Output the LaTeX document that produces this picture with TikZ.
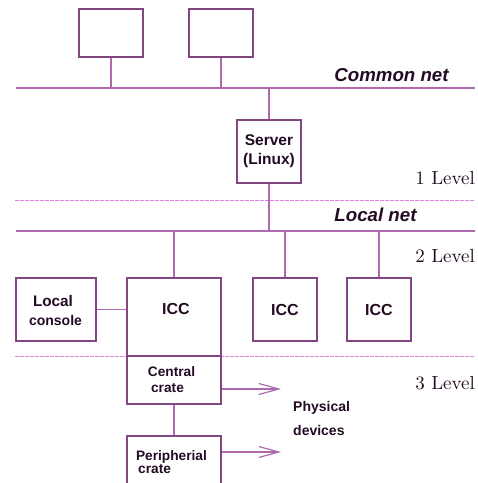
\documentclass[tikz,border=0pt]{standalone}
\usepackage{fontspec}
\setmainfont{Liberation Sans}
\newfontfamily\lmserif{lmroman10-regular.otf}
\usetikzlibrary{arrows.meta}
\definecolor{linec}{RGB}{175,105,175}
\definecolor{boxc}{RGB}{130,70,130}
\definecolor{dotc}{RGB}{220,130,220}
\definecolor{txtc}{RGB}{35,12,35}
\tikzset{
  boxnode/.style={draw=boxc, line width=1.3pt, rectangle, inner sep=0pt, fill=white},
  conn/.style={draw=linec, line width=1.3pt},
  netline/.style={draw=linec, line width=1.4pt},
  sepline/.style={draw=dotc, line width=1pt, dash pattern=on 4pt off 1pt},
  arr/.style={draw=linec, line width=1.2pt, -{Straight Barb[length=20pt,width=11pt,line width=1.2pt]}},
  nettext/.style={text=txtc, font=\fontsize{18.7}{22}\selectfont\bfseries\itshape, inner sep=0pt, anchor=base},
  lvltext/.style={text=txtc, font=\lmserif\fontsize{19}{22}\selectfont, inner sep=0pt, anchor=base east},
  btext/.style={text=txtc, inner sep=0pt, align=center},
}
\begin{document}
\begin{tikzpicture}[x=1pt,y=-1pt]
\useasboundingbox (0,0) rectangle (478,483);
\clip (0,0) rectangle (478,483);
% network lines
\coordinate (cnL) at (16,88);
\coordinate (cnR) at (475,88);
\coordinate (lnL) at (16,231);
\coordinate (lnR) at (475,231);
\draw[netline] (cnL) -- (cnR);
\draw[netline] (lnL) -- (lnR);
% level separators
\coordinate (s1L) at (15,200);
\coordinate (s1R) at (475,200);
\coordinate (s2L) at (15,356);
\coordinate (s2R) at (475,356);
\draw[sepline] (s1L) -- (s1R);
\draw[sepline] (s2L) -- (s2R);
% boxes
\node[boxnode, minimum width=64pt, minimum height=48pt] (top1) at (111,33) {};
\node[boxnode, minimum width=64pt, minimum height=48pt] (top2) at (221,33) {};
\node[boxnode, minimum width=64pt, minimum height=63pt, btext,
      font=\fontsize{15.5}{19}\selectfont\bfseries] (server) at (269,151.5) {Server\\(Linux)};
\node[boxnode, minimum width=80pt, minimum height=63pt] (console) at (56,309.5) {};
\node[boxnode, minimum width=94pt, minimum height=78pt] (icc1) at (174,317) {};
\node[boxnode, minimum width=94pt, minimum height=48pt] (crate) at (174,380) {};
\node[boxnode, minimum width=64pt, minimum height=63pt, btext,
      font=\fontsize{16}{19}\selectfont\bfseries] (icc2) at (285,309.5) {ICC};
\node[boxnode, minimum width=64pt, minimum height=63pt, btext,
      font=\fontsize{16}{19}\selectfont\bfseries] (icc3) at (379,309.5) {ICC};
\node[boxnode, minimum width=94pt, minimum height=70pt] (perif) at (174,471) {};
% connectors
\draw[conn] (top1.south) -- (top1 |- cnL);
\draw[conn] (top2.south) -- (top2 |- cnL);
\draw[conn] (server.north) -- (server |- cnL);
\draw[conn] (server.south) -- (server |- lnL);
\draw[conn] (icc1.north) -- (icc1 |- lnL);
\draw[conn] (icc2.north) -- (icc2 |- lnL);
\draw[conn] (icc3.north) -- (icc3 |- lnL);
\draw[conn] (console.east) -- (icc1.west |- console.east);
\draw[conn] (crate.south) -- (perif.north);
\coordinate (a1) at (281,389);
\coordinate (a2) at (281,452);
\draw[arr] (crate.east |- a1) -- (a1);
\draw[arr] (perif.east |- a2) -- (a2);
% texts
\node[btext, font=\fontsize{16}{19}\selectfont\bfseries, anchor=base] (icc1t) at (176,314) {ICC};
\node[btext, anchor=base] (lc1) at (53,306) {\fontsize{15.3}{18}\selectfont\bfseries Local};
\node[btext, anchor=base] (lc2) at (55.5,325) {\fontsize{14}{18}\selectfont\bfseries console};
\node[btext, anchor=base] (cc1) at (171.5,376) {\fontsize{13.7}{16}\selectfont\bfseries Central};
\node[btext, anchor=base] (cc2) at (167.5,392) {\fontsize{13.7}{16}\selectfont\bfseries crate};
\node[btext, anchor=base] (pc1) at (171.5,460) {\fontsize{13.7}{16}\selectfont\bfseries Peripherial};
\node[btext, anchor=base west] (pc2) at (138,473) {\fontsize{13.7}{16}\selectfont\bfseries crate};
\node[btext, anchor=base west] (pd1) at (293,411) {\fontsize{14}{16}\selectfont\bfseries Physical};
\node[btext, anchor=base west] (pd2) at (293,435) {\fontsize{14}{16}\selectfont\bfseries devices};
\node[nettext] (cn) at (391.5,81) {Common net};
\node[nettext] (ln) at (375.5,221.5) {Local net};
\node[lvltext] (l1) at (475,184) {1 Level};
\node[lvltext] (l2) at (475,262) {2 Level};
\node[lvltext] (l3) at (475,389) {3 Level};
\end{tikzpicture}
\end{document}
